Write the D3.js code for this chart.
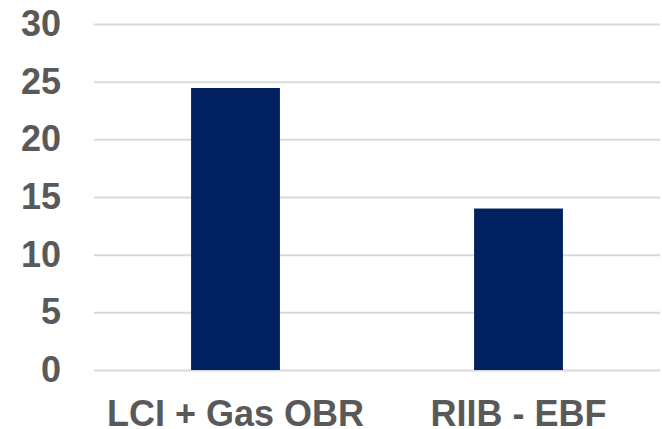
<!DOCTYPE html>
<html>
<head>
<meta charset="utf-8">
<script src="https://cdn.jsdelivr.net/npm/d3@7"></script>
<style>
  body { margin: 0; background: #fff; }
  .tick text { font-family: "Liberation Sans", Arial, sans-serif; font-weight: bold; fill: #595959; }
</style>
</head>
<body>
<div id="chart"></div>
<script>
const categories = ["LCI + Gas OBR", "RIIB - EBF"];
const values = [24.45, 14.0];
const yTicks = [0, 5, 10, 15, 20, 25, 30];

const svg = d3.select("#chart").append("svg")
    .attr("width", 662)
    .attr("height", 429);

const margin = {top: 24, right: 2, bottom: 59, left: 94},
    width = 662 - margin.left - margin.right,
    height = 429 - margin.top - margin.bottom;

const x = d3.scaleBand().domain(categories).range([0, width])
    .paddingInner(0.686).paddingOuter(0.343);
const y = d3.scaleLinear().domain([0, 30]).range([height, 0]);

const g = svg.append("g")
    .attr("transform", `translate(${margin.left},${margin.top})`);

// gridlines + y labels
const yAxis = g.append("g")
    .call(d3.axisLeft(y).tickValues(yTicks).tickSize(-width).tickPadding(33));
yAxis.select(".domain").remove();
yAxis.selectAll(".tick line").attr("stroke", "#d9d9d9").attr("stroke-width", 2);
yAxis.selectAll(".tick text").style("font-size", "36px");

g.selectAll(".bar")
    .data(values)
    .enter().append("rect")
    .attr("class", "bar")
    .attr("x", (d, i) => x(categories[i]))
    .attr("y", d => y(d))
    .attr("width", x.bandwidth())
    .attr("height", d => height - y(d))
    .attr("fill", "#002060");

const xAxis = g.append("g")
    .attr("transform", `translate(0,${height})`)
    .call(d3.axisBottom(x).tickSize(0).tickPadding(30));
xAxis.select(".domain").remove();
xAxis.selectAll(".tick text").style("font-size", "36px");
</script>
</body>
</html>
